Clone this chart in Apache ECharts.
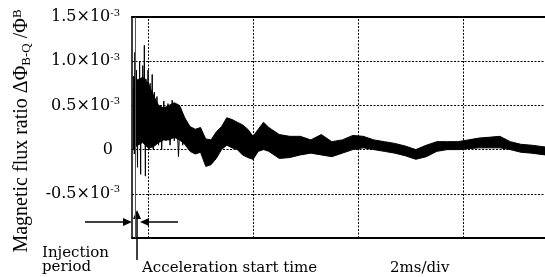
<!DOCTYPE html>
<html><head><meta charset="utf-8">
<script src="https://cdn.jsdelivr.net/npm/echarts@6/dist/echarts.min.js"></script>
<style>html,body{margin:0;padding:0;background:#fff}#c{width:545px;height:277px}</style>
</head><body><div id="c"></div>
<script>
// time in ms (2 ms/div), values in units of 1e-3
const timeMs   = [-0.28,-0.2,-0.1,0,0.1,0.2,0.3,0.4,0.5,0.6,0.7,0.8,0.9,1.0,1.1,1.2,1.3,1.4,1.5,1.6,1.7,1.8,1.9,2.0,2.1,2.2,2.3,2.5,2.7,2.9,3.1,3.3,3.5,3.7,3.9,4.1,4.3,4.5,4.7,4.9,5.1,5.3,5.5,5.7,5.9,6.1,6.3,6.5,6.7,6.9,7.1,7.3,7.56];
const upperEnv = [0.83,0.78,0.82,0.75,0.62,0.50,0.47,0.50,0.53,0.50,0.36,0.26,0.23,0.25,0.12,0.11,0.20,0.26,0.36,0.34,0.31,0.28,0.23,0.15,0.23,0.31,0.25,0.17,0.15,0.15,0.11,0.17,0.09,0.11,0.16,0.15,0.11,0.09,0.07,0.04,0.00,0.05,0.09,0.09,0.09,0.11,0.13,0.14,0.15,0.09,0.06,0.05,0.03];
const lowerEnv = [0.00,0.05,0.08,0.02,0.03,0.08,0.11,0.11,0.14,0.11,0.06,-0.02,-0.05,-0.03,-0.19,-0.17,-0.10,0.00,0.05,0.02,0.00,-0.06,-0.09,-0.11,-0.02,0.00,-0.02,-0.10,-0.09,-0.06,-0.04,-0.06,-0.08,-0.04,0.00,0.02,0.00,-0.02,-0.04,-0.07,-0.11,-0.08,-0.02,0.00,0.00,0.01,0.02,0.02,0.02,0.00,-0.03,-0.04,-0.06];
const spikeTime = [-0.28,-0.26,-0.25,-0.23,-0.22,-0.2,-0.19,-0.17,-0.16,-0.14,-0.13,-0.11,-0.1,-0.08,-0.07,-0.05,-0.04,-0.02,0,0.02,0.04,0.06,0.08,0.1,0.12,0.14,0.17,0.2,0.23,0.26,0.3,0.34,0.38,0.42,0.46,0.5,0.54,0.58,0.62,0.66,0.7];
const spikeVal  = [0.7,-0.05,1.1,0.1,0.9,-0.2,0.8,0.2,1.0,-0.28,0.7,0.1,0.95,0.3,1.18,-0.3,0.8,0.05,0.9,0.0,0.75,0.1,0.85,0.0,0.65,0.1,0.6,0.05,0.5,0.0,0.55,0.1,0.52,0.05,0.56,0.1,0.5,-0.08,0.48,0.05,0.35];
const yTicks = [-1,-0.5,0,0.5,1.0,1.5];
const divTimes = [0,2,4,6];
const accelStart = -0.25;

const chart = echarts.init(document.getElementById('c'), null, {renderer:'canvas'});
const serif = 'DejaVu Serif';
const dotted = {color:'#000', width:1, type:[2,1.5]};
const xMin = -0.305, xMax = 7.56;

chart.setOption({
  animation:false,
  backgroundColor:'#fff',
  grid:{left:132, right:0, top:17, bottom:39},
  xAxis:[
    {type:'value', min:xMin, max:xMax, position:'bottom',
     axisLine:{show:true, onZero:false, lineStyle:{color:'#000', width:2}},
     axisTick:{show:false}, axisLabel:{show:false}, splitLine:{show:false}},
    {type:'value', min:xMin, max:xMax, position:'top',
     axisLine:{show:true, onZero:false, lineStyle:{color:'#000', width:2}},
     axisTick:{show:false}, axisLabel:{show:false}, splitLine:{show:false}}
  ],
  yAxis:{type:'value', min:yTicks[0], max:yTicks[yTicks.length-1], interval:0.5,
    axisLine:{show:true, onZero:false, lineStyle:{color:'#000', width:1.5}},
    axisTick:{show:false},
    splitLine:{show:true, lineStyle:dotted},
    axisLabel:{margin:12, color:'#000',
      formatter:function(v){
        if (Math.abs(v+1) < 1e-9) return '';
        if (Math.abs(v) < 1e-9) return '{z|0}';
        return '{a|' + v.toFixed(1) + '×10}{s|-3}';
      },
      rich:{
        a:{fontFamily:serif, fontSize:16, color:'#000', lineHeight:18},
        s:{fontFamily:serif, fontSize:10, color:'#000', verticalAlign:'top', lineHeight:10},
        z:{fontFamily:serif, fontSize:16, color:'#000', padding:[0,7,0,0]}
      }
    }
  },
  series:[
    {type:'custom', name:'band', silent:true, xAxisIndex:0, yAxisIndex:0,
     data: timeMs.map((t,i)=>[t, lowerEnv[i], upperEnv[i]]),
     encode:{x:0, y:[1,2]},
     renderItem:function(params, api){
       if (params.dataIndex !== 0) return null;
       const pts = [];
       for (let i=0;i<timeMs.length;i++) pts.push(api.coord([timeMs[i], upperEnv[i]]));
       for (let i=timeMs.length-1;i>=0;i--) pts.push(api.coord([timeMs[i], lowerEnv[i]]));
       return {type:'polygon', shape:{points:pts}, style:{fill:'#000', stroke:'#000', lineWidth:1}};
     },
     markLine:{silent:true, symbol:'none', label:{show:false},
       data: divTimes.map(t=>({xAxis:t, lineStyle:dotted})).concat([{xAxis:accelStart, lineStyle:{color:'#555', width:1, type:'solid'}}])}
    },
    {type:'line', name:'spikes', symbol:'none', silent:true,
     data: spikeTime.map((t,i)=>[t, spikeVal[i]]),
     lineStyle:{color:'#000', width:1}
    }
  ],
  graphic:[
    {type:'text', x:22, y:131, rotation:Math.PI/2,
     style:{text:'{m|Magnetic flux ratio ΔΦ}{b|B-Q}{m| /Φ}{p|B}', align:'center', verticalAlign:'middle',
       rich:{
         m:{fontFamily:'Liberation Serif', fontSize:20, fill:'#000', lineHeight:22},
         b:{fontFamily:'Liberation Serif', fontSize:13, fill:'#000', verticalAlign:'bottom', lineHeight:13},
         p:{fontFamily:'Liberation Serif', fontSize:13, fill:'#000', verticalAlign:'top', lineHeight:13}
       }}},
    {type:'text', x:42, y:253, style:{text:'Injection', font:'15px "DejaVu Serif"', fill:'#000', align:'left', verticalAlign:'middle'}},
    {type:'text', x:42, y:267, style:{text:'period', font:'15px "DejaVu Serif"', fill:'#000', align:'left', verticalAlign:'middle'}},
    {type:'text', x:142, y:268, style:{text:'Acceleration start time', font:'15px "DejaVu Serif"', fill:'#000', align:'left', verticalAlign:'middle'}},
    {type:'text', x:390, y:268, style:{text:'2ms/div', font:'15px "DejaVu Serif"', fill:'#000', align:'left', verticalAlign:'middle'}},
    {type:'line', shape:{x1:85, y1:222, x2:126, y2:222}, style:{stroke:'#000', lineWidth:1.5}},
    {type:'polygon', shape:{points:[[132,222],[123,218],[123,226]]}, style:{fill:'#000'}},
    {type:'line', shape:{x1:178, y1:222, x2:147, y2:222}, style:{stroke:'#000', lineWidth:1.5}},
    {type:'polygon', shape:{points:[[140,222],[149,218],[149,226]]}, style:{fill:'#000'}},
    {type:'line', shape:{x1:137, y1:260, x2:137, y2:218}, style:{stroke:'#000', lineWidth:1.5}},
    {type:'polygon', shape:{points:[[137,210],[133,219],[141,219]]}, style:{fill:'#000'}}
  ]
});
</script>
</body></html>
